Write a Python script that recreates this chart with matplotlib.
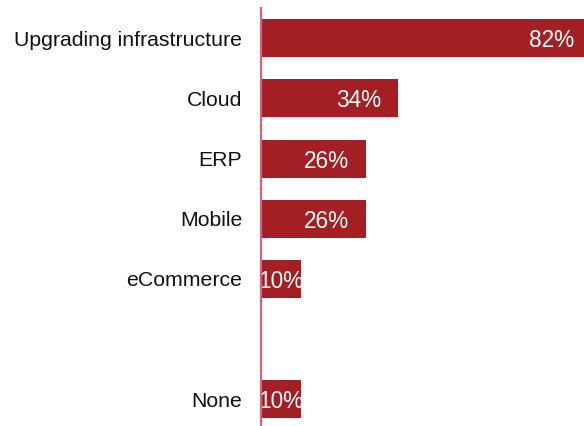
import matplotlib.pyplot as plt

# Survey results
categories = ["Upgrading infrastructure", "Cloud", "ERP", "Mobile", "eCommerce", "", "None"]
values = [82, 34, 26, 26, 10, None, 10]

bar_color = "#A31F23"
axis_color = "#DD6178"

plt.rcParams["font.family"] = ["Liberation Sans", "DejaVu Sans"]

fig = plt.figure(figsize=(5.84, 4.26), dpi=100)
ax = fig.add_axes([261 / 584, -3.5 / 426, 323 / 584, 421.5 / 426])

ypos = list(range(len(categories)))
for y, v in zip(ypos, values):
    if v is None:
        continue
    ax.barh(y, v, height=0.63, color=bar_color)
    if v > 15:
        ax.text(v - 4.2, y, f"{v}%", ha="right", va="center_baseline", color="white", fontsize=16.3)
    else:
        ax.text(v / 2, y, f"{v}%", ha="center", va="center_baseline", color="white", fontsize=16.3)

ax.set_xlim(0, 323 / 4.02)
ax.set_ylim(6.5, -0.5)
ax.set_yticks(ypos)
ax.set_yticklabels(categories, fontsize=15.3, color="#111111")
ax.tick_params(axis="y", length=0, pad=13.5)
ax.set_xticks([])

for side in ["top", "right", "bottom"]:
    ax.spines[side].set_visible(False)
ax.spines["left"].set_color(axis_color)
ax.spines["left"].set_linewidth(1.6)
ax.spines["left"].set_zorder(5)

fig.savefig("out.png", dpi=100)
